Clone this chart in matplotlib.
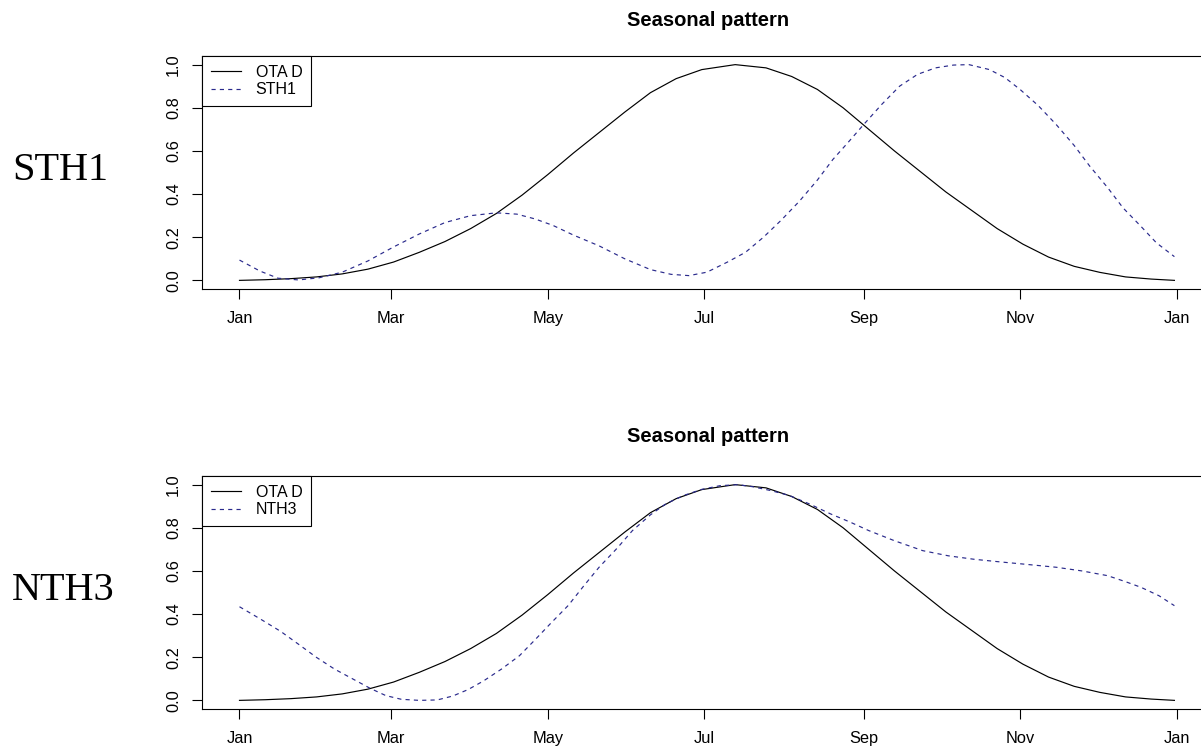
import matplotlib
matplotlib.use('Agg')
import matplotlib.pyplot as plt

# day of year -> value
ota_days = [0, 10, 20, 30, 40, 50, 60, 70, 80, 90, 100, 110, 120, 130, 140, 150, 160,
            170, 180, 193, 205, 215, 225, 235, 245, 255, 265, 275, 285, 295, 305,
            315, 325, 335, 345, 355, 364]
ota_vals = [0.0, 0.003, 0.008, 0.016, 0.03, 0.052, 0.085, 0.13, 0.18, 0.24, 0.31, 0.395,
            0.49, 0.59, 0.685, 0.78, 0.87, 0.935, 0.977, 1.0, 0.985, 0.945, 0.885, 0.8,
            0.7, 0.6, 0.505, 0.41, 0.325, 0.24, 0.168, 0.108, 0.065, 0.037, 0.016,
            0.006, 0.0]

sth1_days = [0, 8, 15, 23, 31, 40, 50, 60, 70, 80, 90, 100, 108, 115, 122, 130, 140,
             150, 160, 168, 175, 182, 190, 197, 204, 211, 218, 225, 231, 237, 243,
             250, 257, 264, 271, 278, 284, 292, 298, 304, 311, 318, 325, 331, 338,
             344, 351, 357, 364]
sth1_vals = [0.094, 0.043, 0.01, 0.002, 0.012, 0.038, 0.09, 0.155, 0.215, 0.268, 0.3,
             0.313, 0.307, 0.285, 0.255, 0.21, 0.16, 0.1, 0.05, 0.028, 0.022, 0.038,
             0.085, 0.13, 0.2, 0.28, 0.367, 0.465, 0.56, 0.64, 0.722, 0.815, 0.9,
             0.955, 0.985, 0.998, 1.0, 0.977, 0.94, 0.884, 0.81, 0.722, 0.625, 0.53,
             0.43, 0.336, 0.25, 0.174, 0.11]

nth3_days = [0, 8, 16, 23, 30, 37, 44, 51, 57, 63, 70, 77, 83, 89, 95, 102, 109, 115,
             121, 128, 134, 140, 147, 153, 160, 166, 173, 180, 187, 194, 200, 207,
             214, 222, 230, 238, 245, 255, 266, 276, 286, 296, 305, 318, 328, 338,
             345, 351, 358, 364]
nth3_vals = [0.434, 0.378, 0.32, 0.26, 0.199, 0.145, 0.1, 0.055, 0.022, 0.005, 0.0,
             0.002, 0.02, 0.05, 0.09, 0.145, 0.207, 0.28, 0.355, 0.44, 0.53, 0.617,
             0.705, 0.787, 0.86, 0.911, 0.95, 0.978, 0.995, 1.0, 0.99, 0.972, 0.95,
             0.91, 0.865, 0.825, 0.787, 0.74, 0.694, 0.67, 0.654, 0.642, 0.632, 0.617,
             0.6, 0.578, 0.55, 0.524, 0.485, 0.439]

month_pos = [0, 59, 120, 181, 243, 304, 365]
month_lab = ['Jan', 'Mar', 'May', 'Jul', 'Sep', 'Nov', 'Jan']

plt.rcParams['font.family'] = ['Liberation Sans', 'DejaVu Sans']
plt.rcParams['lines.scale_dashes'] = False

W, H = 1201, 751
fig = plt.figure(figsize=(W / 100, H / 100), dpi=100)

# plot box runs past the right edge of the picture, as in the reference
RIGHT_PX = 1240
XMAX = 365 + (RIGHT_PX - 1177) / 2.567

def make_panel(top_px, bot_px, other_days, other_vals, name, title_y, label_y):
    ax = fig.add_axes([202 / W, 1 - bot_px / H, (RIGHT_PX - 202) / W, (bot_px - top_px) / H])
    ax.patch.set_visible(False)
    ax.plot(ota_days, ota_vals, color='black', lw=0.85, label='OTA D')
    ax.plot(other_days, other_vals, color='#2a2a8c', lw=0.85, dashes=(3, 3), label=name)
    ax.set_xlim(-14.6, XMAX)
    ax.set_ylim(-0.04, 1.04)
    ax.set_xticks(month_pos)
    ax.set_xticklabels(month_lab)
    ax.set_yticks([0, 0.2, 0.4, 0.6, 0.8, 1.0])
    ax.set_yticklabels(['0.0', '0.2', '0.4', '0.6', '0.8', '1.0'], rotation=90, va='center')
    ax.tick_params(axis='both', length=7, width=0.8, labelsize=11.8, colors='black')
    ax.tick_params(axis='y', pad=8)
    ax.tick_params(axis='x', pad=9)
    for s in ax.spines.values():
        s.set_linewidth(0.8)
    ax.spines['right'].set_visible(False)
    leg = ax.legend(loc='upper left', bbox_to_anchor=(0, 1), borderaxespad=0,
                    fancybox=False, edgecolor='black', framealpha=1, fontsize=11.5,
                    handlelength=1.9, handletextpad=0.9, labelspacing=0.15, borderpad=0.55)
    leg.get_frame().set_linewidth(0.8)
    fig.text(708 / W, 1 - title_y / H, 'Seasonal pattern', ha='center', va='center',
             fontsize=14.5, fontweight='bold')
    fig.text(12 / W, 1 - label_y / H, name, ha='left', va='center', fontsize=29,
             family=['Liberation Serif', 'DejaVu Serif'])
    return ax

make_panel(56, 289, sth1_days, sth1_vals, 'STH1', 20, 170)
make_panel(476, 709, nth3_days, nth3_vals, 'NTH3', 437, 590)

fig.savefig('out.png', dpi=100)
